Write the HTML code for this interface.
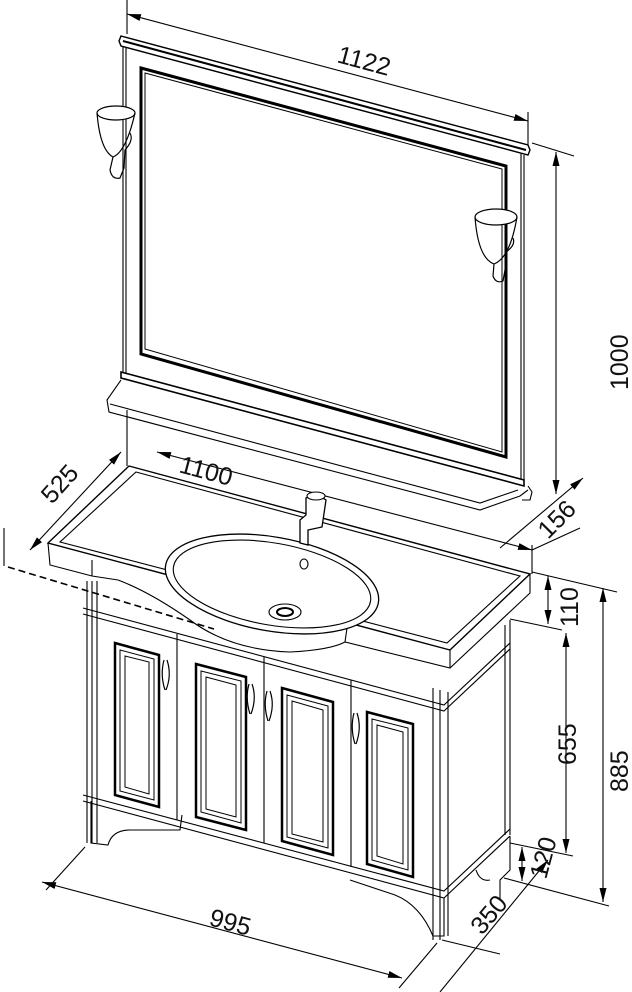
<!DOCTYPE html>
<html><head><meta charset="utf-8"><style>
html,body{margin:0;padding:0;background:#fff}
svg{display:block}
text{font-family:"Liberation Sans",sans-serif;font-size:25px;fill:#111}
</style></head><body>
<svg width="632" height="992" viewBox="0 0 632 992" xmlns="http://www.w3.org/2000/svg">
<defs>
<marker id="a" viewBox="0 0 12 6" refX="12" refY="3" markerWidth="14" markerHeight="7" orient="auto-start-reverse" markerUnits="userSpaceOnUse"><path d="M0,0L12,3L0,6z" fill="#000"/></marker>
</defs>
<g stroke="#000" stroke-width="1.1" fill="none">
<!-- 1122 dimension -->
<line x1="127" y1="0" x2="127" y2="34"/>
<line x1="528" y1="112" x2="528" y2="150"/>
<line x1="127" y1="14" x2="528" y2="121" marker-start="url(#a)" marker-end="url(#a)"/>
<!-- mirror cornice -->
<path d="M121,36 L528,145 L530,150 L528,155 L121,46 L119,41 Z" fill="#fff" stroke-width="1.4"/>
<line x1="123" y1="41" x2="526" y2="150" stroke-width="2"/>
<!-- frame -->
<line x1="123" y1="46" x2="123" y2="373"/>
<line x1="126" y1="47" x2="126" y2="373"/>
<line x1="524" y1="155" x2="524" y2="480"/>
<line x1="521" y1="154" x2="521" y2="480"/>
<!-- mirror inner -->
<path d="M141,68 L506,166 L506,457 L141,354 Z" stroke-width="3"/>
<path d="M145,73 L502,169 L502,452 L145,349 Z" stroke-width="1"/>
<!-- bottom rail & shelf -->
<path d="M121,372 L524,480 L524,486 L121,378 Z" fill="#fff" stroke-width="1.6"/>
<path d="M121,380 L107,400 L109,412 L480,510 L520,496 L528,490" fill="#fff"/>
<path d="M110,404 L480,503 L518,490"/>
<path d="M528,486 L532,492 L530,500 L522,500"/>
<!-- 1000 dimension -->
<line x1="532" y1="143" x2="574" y2="156"/>
<line x1="556" y1="152" x2="556" y2="494" marker-start="url(#a)" marker-end="url(#a)"/>
<line x1="583" y1="478" x2="500" y2="548" marker-start="url(#a)"/>
<!-- lamps -->
<g stroke-width="1.2">
<ellipse cx="116" cy="113" rx="19" ry="7" fill="#fff"/>
<path d="M97,113 Q100,150 113,157 Q126,152 135,113"/>
<path d="M113,157 L110,170 Q112,180 120,178 L124,168 L125,150 Q134,140 130,133"/>
<ellipse cx="496" cy="217" rx="21" ry="8" fill="#fff"/>
<path d="M475,217 Q478,258 494,264 Q510,258 517,217"/>
<path d="M494,264 L493,276 Q496,284 503,281 L505,270 L506,252 Q516,245 513,238"/>
</g>
<!-- 525 dimension -->
<line x1="30" y1="550" x2="121" y2="452" marker-start="url(#a)" marker-end="url(#a)"/>
<line x1="4" y1="528" x2="4" y2="566"/>
<line x1="127" y1="410" x2="127" y2="466"/>
<line x1="8" y1="567" x2="214" y2="629" stroke-dasharray="7,4" stroke-width="1.6"/>
<!-- 1100 dimension -->
<line x1="157" y1="452" x2="532" y2="550" marker-start="url(#a)" marker-end="url(#a)"/>
<line x1="532" y1="545" x2="532" y2="574"/>
<!-- 156 -->
<line x1="532" y1="550" x2="580" y2="528"/>
<!-- countertop -->
<path d="M129,466 L530,574 L450,650 L48,543 Z" fill="#fff" stroke-width="1.4"/>
<path d="M136,472 L520,576 L447,643 L60,542 Z"/>
<path d="M48,543 L50,565 L92,576 L118,580 Q150,592 190,620 Q230,650 290,652 Q330,650 345,642 L450,668 L530,593 L530,574"/>
<path d="M450,650 L450,668"/>
<path d="M92,576 L92,560 M345,642 L347,628"/>
<!-- basin -->
<ellipse cx="272" cy="584" rx="108" ry="47" transform="rotate(10 272 584)" fill="#fff" stroke-width="1.3"/>
<ellipse cx="272" cy="584" rx="100" ry="41" transform="rotate(10 272 584)"/>
<ellipse cx="285" cy="612" rx="16" ry="8"/>
<ellipse cx="285" cy="612" rx="8" ry="4" stroke-width="2"/>
<ellipse cx="304" cy="564" rx="4" ry="5"/>
<!-- faucet -->
<path d="M300,520 L300,543 L308,545 L308,530 L322,527 L326,500 L316,494 L306,498 L306,515 Z" fill="#fff" stroke-width="1.3"/>
<ellipse cx="316" cy="496" rx="9" ry="4" fill="#fff"/>
<!-- cabinet -->
<path d="M87,581 L87,843 M92,581 L92,843 M97,581 L97,843"/>
<path d="M83,608 L444,705 L510,643 M83,614 L444,711 L510,649"/>
<path d="M83,795 L444,891 L510,829 M83,801 L444,898 L510,836"/>
<path d="M433,688 L433,940 M440,690 L440,940 M448,692 L448,936"/>
<path d="M510,620 L510,835 M505,625 L505,835 M510,836 L510,870 L500,880 L500,900"/>
<path d="M177,634 L177,820 M264,657 L264,843 M351,680 L351,867"/>
<!-- door panels -->
<g stroke-width="1">
<path d="M115,643 L159,655 L159,807 L115,795 Z" stroke-width="2.5"/>
<path d="M120,650 L154,659 L154,800 L120,791 Z"/><path d="M125,656 L149,662 L149,794 L125,787 Z"/>
<path d="M196,664 L246,677 L246,830 L196,817 Z" stroke-width="2.5"/>
<path d="M201,671 L241,681 L241,823 L201,812 Z"/><path d="M206,677 L236,685 L236,817 L206,809 Z"/>
<path d="M282,688 L333,702 L333,855 L282,841 Z" stroke-width="2.5"/>
<path d="M287,695 L328,706 L328,848 L287,837 Z"/><path d="M292,701 L323,710 L323,842 L292,834 Z"/>
<path d="M367,712 L413,724 L413,877 L367,864 Z" stroke-width="2.5"/>
<path d="M372,719 L408,728 L408,870 L372,860 Z"/><path d="M377,725 L403,732 L403,864 L377,856 Z"/>
</g>
<!-- handles -->
<g stroke-width="1.2">
<path d="M164,660 Q160,675 165,690 M167,660 Q172,675 166,690"/>
<path d="M249,684 Q245,698 250,714 M252,684 Q257,698 251,714"/>
<path d="M267,691 Q263,705 268,721 M270,691 Q275,705 269,721"/>
<path d="M354,713 Q350,728 355,744 M357,713 Q362,728 356,744"/>
</g>
<!-- legs -->
<path d="M91,801 L91,843 L108,845 Q112,830 130,830 L180,830 L182,815"/>
<path d="M444,898 L444,936 L433,936 Q420,905 395,895 L350,880"/>
<path d="M476,870 Q480,882 490,880"/>
<!-- right dimensions -->
<line x1="532" y1="572" x2="617" y2="592"/>
<line x1="510" y1="619" x2="562" y2="630"/>
<line x1="548" y1="576" x2="548" y2="624" marker-start="url(#a)" marker-end="url(#a)"/>
<line x1="603" y1="588" x2="603" y2="902" marker-start="url(#a)" marker-end="url(#a)"/>
<line x1="566" y1="633" x2="566" y2="853" marker-start="url(#a)" marker-end="url(#a)"/>
<line x1="510" y1="843" x2="573" y2="856"/>
<line x1="522" y1="847" x2="522" y2="881" marker-start="url(#a)" marker-end="url(#a)"/>
<line x1="504" y1="878" x2="609" y2="906"/>
<line x1="548" y1="860" x2="440" y2="992" marker-start="url(#a)"/>
<line x1="442" y1="940" x2="500" y2="954"/>
<!-- 995 -->
<line x1="85" y1="847" x2="46" y2="890"/>
<line x1="437" y1="943" x2="399" y2="988"/>
<line x1="42" y1="882" x2="402" y2="978" marker-start="url(#a)" marker-end="url(#a)"/>
</g>
<text transform="translate(336,62) rotate(15)">1122</text>
<text transform="translate(628,390) rotate(-90)">1000</text>
<text transform="translate(52,505) rotate(-48)">525</text>
<text transform="translate(178,472) rotate(15)">1100</text>
<text transform="translate(548,540) rotate(-45)">156</text>
<text transform="translate(578,627) rotate(-90)">110</text>
<text transform="translate(628,792) rotate(-90)">885</text>
<text transform="translate(576,765) rotate(-90)">655</text>
<text transform="translate(546,880) rotate(-75)">120</text>
<text transform="translate(482,936) rotate(-50)">350</text>
<text transform="translate(208,925) rotate(15)">995</text>
</svg>
</body></html>
